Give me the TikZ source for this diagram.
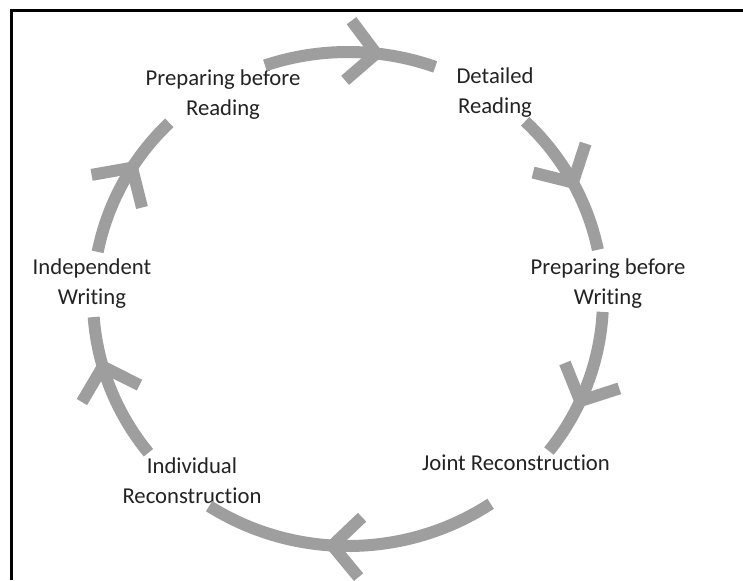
\documentclass[tikz,border=0pt]{standalone}
\usepackage{fontspec}
\setmainfont{Carlito}[Ligatures={NoCommon,NoRequired}]
\usepackage{tikz}
\usetikzlibrary{positioning,calc,decorations.markings}

\definecolor{arcgray}{RGB}{158,158,158}
\definecolor{inkgray}{RGB}{35,35,35}

\tikzset{
  stage/.style={align=center, text=inkgray, inner sep=0pt,
    font=\fontsize{22.7}{30}\selectfont},
  cycarc/.style={draw=arcgray, line width=12pt},
  chevron/.style={draw=arcgray, line width=12pt, line join=bevel},
  tipat/.style={postaction={decorate, decoration={markings,
    mark=at position #1 with {\draw[chevron] (-28pt,30pt) -- (0,0) -- (-28pt,-30pt);}}}}
}

\begin{document}
\begin{tikzpicture}[x=1pt,y=1pt]
\useasboundingbox[fill=white] (0,0) rectangle (743,580);

% frame (top and left edge only)
\draw[line width=3pt] (11,0) -- (11,569) -- (743,569);

\coordinate (hub) at (348,281);

% the six stages
\node[stage] (prepread) at (223,485) {Preparing before\\Reading};
\node[stage] (detread) at (495,487) {Detailed\\Reading};
\node[stage] (prepwrite) at (608,296) {Preparing before\\Writing};
\node[stage] (jointrec) at (516,117) {Joint Reconstruction};
\node[stage] (indivrec) at (192,99) {Individual\\Reconstruction};
\node[stage] (indepwrite) at (92,296) {Independent\\Writing};

% arcs of the cycle, clockwise
\draw[cycarc, tipat=0.65] ($(hub)+(109:255pt and 247pt)$)
  arc[start angle=109, end angle=70, x radius=255pt, y radius=247pt];
\draw[cycarc, tipat=0.52] ($(hub)+(46:255pt and 247pt)$)
  arc[start angle=46, end angle=11.5, x radius=255pt, y radius=247pt];
\draw[cycarc, tipat=0.61] ($(hub)+(-3:255pt and 247pt)$)
  arc[start angle=-3, end angle=-38, x radius=255pt, y radius=247pt];
\draw[cycarc, tipat=0.56] ($(hub)+(-56:255pt and 247pt)$)
  arc[start angle=-56, end angle=-123, x radius=255pt, y radius=247pt];
\draw[cycarc, tipat=0.66] ($(hub)+(-141.5:255pt and 247pt)$)
  arc[start angle=-141.5, end angle=-175.8, x radius=255pt, y radius=247pt];
\draw[cycarc, tipat=0.61] ($(hub)+(-191:255pt and 247pt)$)
  arc[start angle=-191, end angle=-225.5, x radius=255pt, y radius=247pt];
\end{tikzpicture}
\end{document}
